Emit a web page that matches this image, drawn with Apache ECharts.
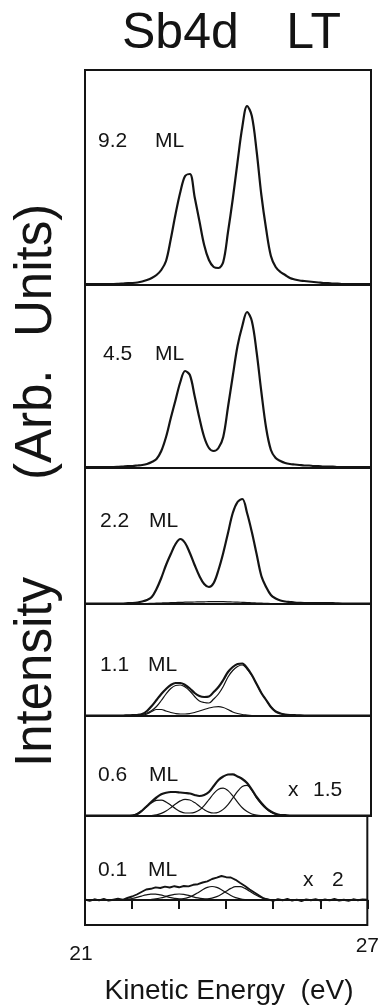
<!DOCTYPE html>
<html>
<head>
<meta charset="utf-8">
<title>Sb4d LT</title>
<script src="https://cdn.jsdelivr.net/npm/echarts/dist/echarts.min.js"></script>
<style>
    html, body { margin: 0; padding: 0; background: #fff; }
    #chart-sb { width: 382px; height: 1005px; }
</style>
</head>
<body>
<div id="chart-sb"></div>
<script>
// kinetic energy (eV), 0.1 eV steps
var energy = [
    21.0, 21.1, 21.2, 21.3, 21.4, 21.5, 21.6, 21.7, 21.8, 21.9,
    22.0, 22.1, 22.2, 22.3, 22.4, 22.5, 22.6, 22.7, 22.8, 22.9,
    23.0, 23.1, 23.2, 23.3, 23.4, 23.5, 23.6, 23.7, 23.8, 23.9,
    24.0, 24.1, 24.2, 24.3, 24.4, 24.5, 24.6, 24.7, 24.8, 24.9,
    25.0, 25.1, 25.2, 25.3, 25.4, 25.5, 25.6, 25.7, 25.8, 25.9,
    26.0, 26.1, 26.2, 26.3, 26.4, 26.5, 26.6, 26.7, 26.8, 26.9,
    27.0
];
var tickLabels = ['21', '27'];

// intensities (arb. units)
var ml92 = [
    1, 1, 1, 1, 1, 1, 1, 1.2, 1.5, 1.8,
    2, 2.5, 3.5, 5, 7, 10, 15, 24, 46, 71,
    93, 109, 111, 88, 64, 40, 25, 18, 17, 23,
    53, 86, 123, 158, 179, 169, 134, 90, 56, 29,
    18, 13, 10, 7, 5.5, 4.5, 4, 3.5, 3, 2.5,
    2, 2, 1.5, 1.5, 1, 1, 1, 1, 1, 1, 1
];
var ml45 = [
    1, 1, 1, 1, 1, 1, 1, 1.2, 1.5, 1.8,
    2, 2.5, 3, 4, 6, 9, 17, 31, 50, 68,
    86, 97, 93, 72, 50, 31, 20, 17, 20, 31,
    61, 92, 122, 142, 156, 147, 116, 76, 40, 18,
    10, 7, 5, 4, 3.5, 3, 2.5, 2.5, 2, 2,
    1.5, 1.5, 1.5, 1, 1, 1, 1, 1, 1, 1, 1
];
var ml22 = [
    0.5, 0.5, 0.5, 0.5, 0.5, 0.5, 0.5, 0.5, 0.5, 0.8,
    1, 1.5, 2.5, 4, 7, 15, 26, 39, 50, 60,
    65, 61, 51, 39, 28, 20, 17, 21, 34, 51,
    71, 91, 102, 105, 91, 72, 50, 28, 17, 9,
    5.5, 3.5, 2.5, 2, 1.5, 1.2, 1, 1, 1, 1,
    0.8, 0.8, 0.8, 0.6, 0.5, 0.5, 0.5, 0.5, 0.5, 0.5, 0.5
];
var ml22Bg = [
    0, 0, 0, 0, 0, 0, 0, 0, 0, 0,
    0, 0, 0.3, 0.4, 0.6, 0.8, 1, 1.2, 1.3, 1.5,
    1.6, 1.8, 1.9, 2, 2.1, 2.2, 2.3, 2.3, 2.3, 2.3,
    2.2, 2, 1.9, 1.7, 1.5, 1.2, 1, 0.8, 0.6, 0.4,
    0.3, 0.1, 0, 0, 0, 0, 0, 0, 0, 0,
    0, 0, 0, 0, 0, 0, 0, 0, 0, 0, 0
];
var ml11 = [
    0.5, 0.5, 0.5, 0.5, 0.5, 0.5, 0.5, 0.5, 0.5, 0.7,
    0.8, 1, 2, 5, 10, 16, 22, 27, 31, 33,
    33, 31, 27.5, 23, 20, 19, 19.5, 24, 29, 36,
    44, 49, 52, 52.5, 48, 41, 32, 23, 16, 9,
    4.5, 2.5, 1.5, 1, 0.8, 0.6, 0.5, 0.5, 0.5, 0.5,
    0.5, 0.5, 0.5, 0.5, 0.5, 0.5, 0.5, 0.5, 0.5, 0.5, 0.5
];
var ml11Main = [
    0.5, 0.5, 0.5, 0.5, 0.5, 0.5, 0.5, 0.5, 0.5, 0.7,
    0.8, 1, 1.5, 3, 5.5, 9.5, 15.5, 22, 27.5, 30.5,
    31, 29, 25, 19.5, 15, 13.5, 13, 17, 22, 29.5,
    39, 45.5, 49.5, 51, 47, 40.5, 32, 23, 16, 9,
    4.5, 2.5, 1.5, 1, 0.8, 0.6, 0.5, 0.5, 0.5, 0.5,
    0.5, 0.5, 0.5, 0.5, 0.5, 0.5, 0.5, 0.5, 0.5, 0.5, 0.5
];
var ml11Low = [
    0, 0, 0, 0, 0, 0, 0, 0, 0, 0,
    0, 0, 0.5, 2, 4.5, 6.5, 6.5, 5, 3.5, 2.5,
    2, 2, 2.5, 3.5, 5, 6.5, 8, 9, 9.3, 8.5,
    6.5, 4, 2.5, 1.5, 1, 0.5, 0, 0, 0, 0,
    0, 0, 0, 0, 0, 0, 0, 0, 0, 0,
    0, 0, 0, 0, 0, 0, 0, 0, 0, 0, 0
];
var ml06 = [
    0.5, 0.5, 0.5, 0.5, 0.5, 0.5, 0.5, 0.5, 0.5, 0.5,
    0.5, 2, 5.5, 10, 14.5, 18.5, 21.7, 23.3, 24, 24,
    23.5, 23, 22.5, 21, 20, 21, 24, 30, 36, 39.5,
    41.5, 41.7, 39.5, 37, 33, 26.5, 19, 13, 8, 4.5,
    2.2, 1, 0.8, 0.5, 0.5, 0.5, 0.5, 0.5, 0.5, 0.5,
    0.5, 0.5, 0.5, 0.5, 0.5, 0.5, 0.5, 0.5, 0.5, 0.5, 0.5
];
var ml06A = [
    0, 0, 0, 0, 0, 0, 0, 0, 0, 0,
    0.8, 2.5, 5.5, 9.5, 13.2, 15.6, 15.8, 14, 10.8, 7.3,
    4.4, 3, 3, 3.6, 5.9, 10.4, 16.4, 22.4, 26.8, 27.9,
    25.4, 20.1, 13.9, 8.3, 4.4, 2, 0.8, 0.3, 0.1, 0,
    0, 0, 0, 0, 0, 0, 0, 0, 0, 0,
    0, 0, 0, 0, 0, 0, 0, 0, 0, 0, 0
];
var ml06B = [
    0, 0, 0, 0, 0, 0, 0, 0, 0, 0,
    0, 0, 0, 0.2, 0.5, 1.2, 2.6, 5, 8.3, 12,
    15.1, 16.7, 16, 13.4, 9.8, 6.4, 3.9, 3, 3.8, 6.6,
    11.4, 17.9, 24.6, 29.4, 30.6, 25.5, 18, 12, 7.3, 3.8,
    1.6, 0.6, 0.2, 0, 0, 0, 0, 0, 0, 0,
    0, 0, 0, 0, 0, 0, 0, 0, 0, 0, 0
];
var ml01 = [
    0.5, -0.8, 0.7, -0.4, 1.0, -0.6, 0.3, 1.2, 0.2, 2.0,
    3.5, 5.5, 8.0, 10.5, 11.2, 12.6, 12.0, 13.4, 12.5, 13.8,
    12.7, 14.0, 13.6, 15.2, 15.8, 17.5, 18.6, 21.0, 22.4, 24.0,
    22.8, 22.5, 20.2, 17.0, 14.0, 10.5, 7.5, 4.5, 1.5, 0.3,
    -0.9, 0.8, -0.3, 1.1, -0.6, 0.4, -1.0, 0.6, -0.2, 0.9,
    -0.7, 0.5, -0.4, 1.0, -0.5, 0.3, -0.8, 0.7, -0.3, 0.6, 0.2
];
var ml01A = [
    0, 0, 0, 0, 0, 0, 0, 0, 0, 0.75,
    1.5, 2.6, 3.9, 5.1, 5.9, 5.9, 5.1, 3.9, 2.6, 1.7,
    1.2, 1.5, 2.6, 4.6, 7.3, 10.3, 12.6, 13.5, 12.6, 10.3,
    7.3, 4.5, 2.4, 1.2, 0.5, 0.2, 0, 0, 0, 0,
    0, 0, 0, 0, 0, 0, 0, 0, 0, 0,
    0, 0, 0, 0, 0, 0, 0, 0, 0, 0, 0
];
var ml01B = [
    0, 0, 0, 0, 0, 0, 0, 0, 0, 0,
    0, 0, 0, 0, 0.5, 1.1, 2.0, 3.2, 4.6, 5.6,
    6, 5.6, 4.6, 3.2, 2.1, 1.4, 1.2, 1.9, 3.4, 5.8,
    8.8, 11.6, 13.3, 13.3, 11.6, 8.8, 5.8, 3.4, 1.7, 0.7,
    0.3, 0.1, 0, 0, 0, 0, 0, 0, 0, 0,
    0, 0, 0, 0, 0, 0, 0, 0, 0, 0, 0
];

var coverage = ['9.2', '4.5', '2.2', '1.1', '0.6', '0.1'];

// panel layout in pixels: top, height, y min
var panels = [
    {top: 70, height: 215, min: 0},
    {top: 285, height: 183, min: 0},
    {top: 468, height: 136, min: 0},
    {top: 604, height: 112, min: 0},
    {top: 716, height: 100, min: 0},
    {top: 816, height: 109, min: -25}
];
// label spots: y middle, x of number, x of "ML"
var labelY = [141, 354, 521, 665, 775, 870];
var labelNumX = [98, 103, 100, 100, 98, 98];
var labelMlX = [155, 155, 149, 148, 149, 148];

var ink = '#141414';
var font = '"Liberation Sans", Arial, sans-serif';

function pairs(vals) {
    return energy.map(function (e, i) {
        return [e, vals[i]];
    });
}

function curve(idx, vals, width, smooth) {
    return {
        type: 'line',
        xAxisIndex: idx,
        yAxisIndex: idx,
        data: pairs(vals),
        showSymbol: false,
        smooth: smooth === undefined ? 0.35 : smooth,
        lineStyle: {color: ink, width: width},
        z: width > 1.5 ? 3 : 2,
        silent: true
    };
}

var grids = [], xAxes = [], yAxes = [];
panels.forEach(function (p, i) {
    var last = i === panels.length - 1;
    grids.push({
        left: 85,
        width: 286,
        top: p.top,
        height: p.height,
        show: true,
        borderColor: ink,
        borderWidth: 2,
        backgroundColor: 'transparent'
    });
    xAxes.push({
        type: 'value',
        gridIndex: i,
        min: 21,
        max: 27,
        interval: 1,
        show: last,
        splitLine: {show: false},
        axisLine: {show: last, lineStyle: {color: ink, width: 2}},
        axisTick: {show: last, length: 9, lineStyle: {color: ink, width: 2}},
        axisLabel: {
            show: last,
            margin: 11,
            color: ink,
            fontFamily: font,
            formatter: function (v) {
                if (v === 21) return '{a|' + tickLabels[0] + '}';
                if (v === 27) return '{b|' + tickLabels[1] + '}';
                return '';
            },
            rich: {
                a: {fontSize: 21, fontFamily: font, color: ink, padding: [8, 8, 0, 0]},
                b: {fontSize: 21, fontFamily: font, color: ink, padding: [0, 0, 0, 0]}
            }
        }
    });
    yAxes.push({
        type: 'value',
        gridIndex: i,
        min: p.min,
        max: p.min + p.height,
        show: false
    });
});

var series = [
    curve(0, ml92, 2.2),
    curve(1, ml45, 2.2),
    curve(2, ml22Bg, 1.2),
    curve(2, ml22, 2.2),
    curve(3, ml11Low, 1.2),
    curve(3, ml11Main, 1.2),
    curve(3, ml11, 2.2),
    curve(4, ml06A, 1.2),
    curve(4, ml06B, 1.2),
    curve(4, ml06, 2.2),
    curve(5, ml01A, 1.2),
    curve(5, ml01B, 1.2),
    curve(5, ml01, 1.9, false)
];

function txt(str, x, y, size, align, extra) {
    var el = {
        type: 'text',
        x: x,
        y: y,
        silent: true,
        style: {
            text: str,
            fill: ink,
            font: 'normal ' + size + 'px ' + font,
            textAlign: align || 'left',
            textVerticalAlign: 'middle'
        }
    };
    for (var k in extra) el[k] = extra[k];
    return el;
}

var graphics = [
    txt('Sb4d', 122, 34, 50, 'left'),
    txt('LT', 341, 34, 50, 'right'),
    // rotated axis title, pieces placed like the original spacing
    txt('Intensity', 37, 767, 51, 'left', {rotation: Math.PI / 2}),
    txt('(Arb.', 37, 480, 51, 'left', {rotation: Math.PI / 2}),
    txt('Units)', 37, 337, 51, 'left', {rotation: Math.PI / 2}),
    txt('Kinetic Energy  (eV)', 229, 991, 28, 'center'),
    txt('x', 288, 790, 21, 'left'),
    txt('1.5', 313, 790, 21, 'left'),
    txt('x', 303, 880, 21, 'left'),
    txt('2', 332, 880, 21, 'left')
];
coverage.forEach(function (c, i) {
    graphics.push(txt(c, labelNumX[i], labelY[i], 21, 'left'));
    graphics.push(txt('ML', labelMlX[i], labelY[i], 21, 'left'));
});

var chartSb = echarts.init(document.getElementById('chart-sb'), null, {renderer: 'canvas'});
chartSb.setOption({
    animation: false,
    backgroundColor: '#fff',
    grid: grids,
    xAxis: xAxes,
    yAxis: yAxes,
    series: series,
    graphic: graphics
});
</script>
</body>
</html>
